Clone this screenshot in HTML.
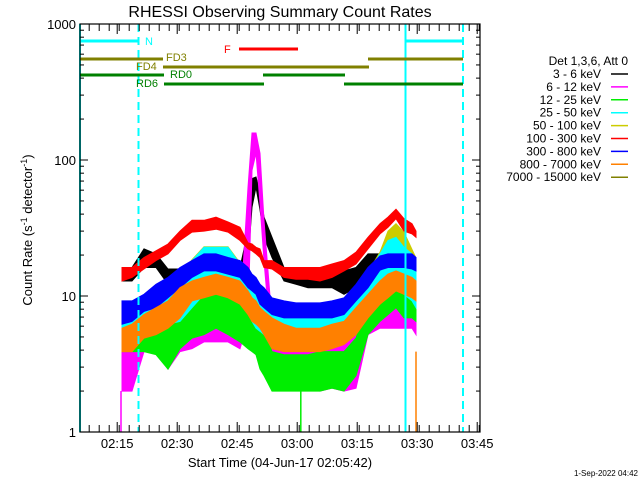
<!DOCTYPE html>
<html><head><meta charset="utf-8"><style>
body{margin:0;background:#fff;}
svg{display:block;font-family:"Liberation Sans",sans-serif;}
</style></head><body>
<svg id="chart" width="640" height="480" viewBox="0 0 640 480">
<text x="280" y="17" font-size="16" text-anchor="middle">RHESSI Observing Summary Count Rates</text>
<text transform="translate(32,230) rotate(-90)" font-size="13" text-anchor="middle">Count Rate (s<tspan dy="-5" font-size="9">-1</tspan><tspan dy="5"> detector</tspan><tspan dy="-5" font-size="9">-1</tspan><tspan dy="5">)</tspan></text>
<text x="280" y="467" font-size="13" text-anchor="middle">Start Time (04-Jun-17 02:05:42)</text>
<text x="638" y="476" font-size="8" text-anchor="end">1-Sep-2022 04:42</text>
<g id="plot"></g>
</svg>
<script>
// minutes after 02:05:42
const times=[10.5,13,16,19,22,25,28,31,34,37,40,42,43,44,45,46,48,51,54,57,60,63,66,69,72,75,77,79,81,83,84];
const names=["3 - 6 keV","6 - 12 keV","12 - 25 keV","25 - 50 keV","50 - 100 keV","100 - 300 keV","300 - 800 keV","800 - 7000 keV","7000 - 15000 keV"];
const colors=["#000000","#ff00ff","#00ee00","#00ffff","#cccc00","#ff0000","#0000ff","#ff8000","#808000"];
const blackHi=[15.8,16.2,22.2,20.4,15.8,15.8,17.2,17.7,17.2,17.2,16.2,30,73,75,58,38,27,16.2,15.8,15.3,15,15.3,15.3,16.2,20.4,20.4,20.4,21,20.4,20.4,18.2];
const blackLo=[12.9,12.9,16.2,16.2,12.2,12.2,12.9,12.9,12.5,12.9,12.2,18.2,45,63,43,27,19.2,12.9,12.2,11.5,11.5,11.5,10.3,11.5,16.2,16.2,17.2,17.2,16.7,16.2,15.3];
const magHi=[3.9,3.9,7,6.9,5.8,6.9,6.9,6.9,6.9,6.9,6.9,63,158,158,112,36,6.5,5.2,5.2,5.2,5.2,5.2,5.8,5.8,8.2,8.7,8.7,8.9,8.7,8.9,8.7];
const magLo=[2.0,2.0,3.9,3.9,2.9,3.9,4.1,4.6,4.6,4.6,4.1,6.5,84,112,48,18,3.8,2.6,2.1,2.1,2.0,2.1,2.0,2.1,5.2,5.8,5.8,5.8,5.8,5.8,5.2];
const greenHi=[5.8,5.8,6.5,6.9,6.5,8.2,9.7,11.5,12.2,11.5,10.3,9.2,9.2,8.2,7.3,5.8,3.9,3.7,3.7,3.7,3.9,3.9,3.9,4.9,9.2,12.9,14.5,15.3,14.5,13.7,12.9];
const greenLo=[3.9,3.9,3.9,3.7,2.9,4.1,4.9,5.2,5.8,5.2,4.6,4.1,3.9,3.7,2.9,2.6,2.0,2.0,2.0,2.0,2.0,2.1,2.0,2.6,5.2,6.5,7.3,8.2,6.9,6.9,6.5];
const cyanHi=[7.3,7.7,8.2,9.2,12.2,13.7,18.2,22.8,22.8,22.8,17.2,13.7,11.5,10.3,9.2,8.2,8.2,7.7,7.7,7.7,7.3,7.7,9.2,10.9,14.5,20.4,25.6,27,22.8,20.4,18.2];
const cyanLo=[4.6,5.0,5.5,5.8,6.2,6.5,8.2,10.3,11.5,10.3,9.2,7.7,6.5,5.8,5.5,5.2,4.6,4.6,4.4,4.4,4.6,4.6,5.2,5.8,8.2,10.3,12.9,12.9,10.3,9.2,8.2];
const yelHi=[7.5,7.9,8.4,9.4,12.4,14,18.5,23,23,23,17.5,14,11.7,10.5,9.4,8.4,8.4,7.9,7.9,7.9,7.5,7.9,9.4,11.2,15,21,30,34,29.5,22,19];
const yelLo=[5.5,5.8,6.2,6.5,7.3,7.7,9.7,12.2,12.9,12.2,10.3,8.7,7.3,6.5,6.2,5.8,5.2,5.2,4.9,4.9,5.2,5.2,5.8,6.5,9.2,12.2,17.2,18.2,15.3,11,9.7];
const redHi=[16.2,16.2,19.2,21.5,24.1,30,36,36,38,35,32,24.6,24.1,22.8,22.2,18.2,18.2,16.2,16.2,16.2,16.2,17.2,18.2,21,27,34,38,43.5,37,34,30];
const redLo=[12.9,13.7,15.8,18.2,20.4,25.6,29.5,30,31,29.5,25.6,22.2,21.5,20.4,19.2,16.2,15.8,13.7,13.3,13.3,12.9,13.7,15.3,17.2,22.2,28.6,32,37,30,28.6,27];
const blueHi=[9.2,9.2,10.3,12.2,13.7,16.2,18.2,20.4,20.4,19.2,18.2,16.2,14.5,13.7,12.2,11.5,9.7,9.2,8.9,8.9,8.9,9.2,9.7,12.2,16.2,19.7,20.4,20.4,20.4,20.4,19.2];
const blueLo=[6.2,6.5,7.7,8.2,9.7,11.5,13.7,15.3,15.3,14.5,13.7,11.5,10.9,10.3,8.7,8.2,7.3,6.9,6.9,6.9,6.9,6.9,7.3,9.2,11.5,15.5,16.2,16.2,16.2,15.8,15.3];
const orHi=[5.8,6.2,7.3,8.2,9.2,11.5,12.9,13.7,14.5,13.7,12.9,10.9,9.7,9.2,8.2,7.7,6.9,6.2,5.8,5.8,5.8,6.2,6.5,8.2,10.3,12.9,14.5,15.3,14.5,13.7,12.9];
const orLo=[3.9,3.9,4.9,5.2,5.8,6.9,9.2,9.7,10.3,9.7,8.7,7.3,6.5,6.2,5.8,5.2,4.1,3.9,3.9,3.9,3.9,4.1,4.4,5.2,6.9,8.7,9.7,10.9,10.3,9.7,9.2];
const bandsHi=[blackHi,magHi,greenHi,cyanHi,yelHi,redHi,blueHi,orHi];
const bandsLo=[blackLo,magLo,greenLo,cyanLo,yelLo,redLo,blueLo,orLo];
const drawOrder=[0,1,2,4,3,5,6,7];
const yTicks=[1,10,100,1000];
const xTickLabels=["02:15","02:30","02:45","03:00","03:15","03:30","03:45"];
const xTickMinutes=[9.3,24.3,39.3,54.3,69.3,84.3,99.3];

const L=80,R=480,T=24,B=432;
const xs=t=>L+t*4;
const ys=v=>B-(Math.log10(v))*(B-T)/3;
const NS="http://www.w3.org/2000/svg";
const g=document.getElementById('plot');
function mk(tag,at,parent){const e=document.createElementNS(NS,tag);for(const k in at)e.setAttribute(k,at[k]);(parent||g).appendChild(e);return e;}

// series bands
drawOrder.forEach(s=>{
  const hi=bandsHi[s],lo=bandsLo[s];
  let pts=[];
  for(let i=0;i<times.length;i++)pts.push(xs(times[i]).toFixed(1)+","+ys(hi[i]).toFixed(1));
  for(let i=times.length-1;i>=0;i--)pts.push(xs(times[i]).toFixed(1)+","+ys(lo[i]).toFixed(1));
  const p=mk('polygon',{points:pts.join(' '),fill:colors[s],stroke:colors[s],'stroke-width':1});
  
  
});
// drop lines
[[1,10.25,2.0],[2,55.2,2.0],[7,84,3.9]].forEach(d=>{
  const l=mk('line',{x1:xs(d[1]),x2:xs(d[1]),y1:ys(d[2]),y2:B,stroke:colors[d[0]],'stroke-width':1.5});
  
  
});

// vertical markers
[[80,false],[138.5,true],[405.5,false],[463,true]].forEach(v=>{
  const l=mk('line',{x1:v[0],x2:v[0],y1:T,y2:B,stroke:'#00ffff','stroke-width':2});
  if(v[1])l.setAttribute('stroke-dasharray','8,5');
  
  
});

// status bars
const bars=[["#00ffff",41,80,138],["#00ffff",41,405,463],["#ff0000",49,239,298],["#808000",59,80,163],["#808000",59,368,463],["#808000",67,163,369],["#008000",75,80,164],["#008000",75,263,345],["#008000",84,164,264],["#008000",84,344,463]];
bars.forEach(b=>{
  const l=mk('line',{x1:b[2],x2:b[3],y1:b[1],y2:b[1],stroke:b[0],'stroke-width':3});
  
  
});
[["N",145,45,"#00ffff"],["F",224,53,"#ff0000"],["FD3",166,61,"#808000"],["FD4",136,70,"#808000"],["RD0",170,78,"#008000"],["RD6",136,87,"#008000"]].forEach(t=>{
  const e=mk('text',{x:t[1],y:t[2],fill:t[3],'font-size':11});
  e.textContent=t[0];
  
  
});

// axes box
const box=mk('rect',{x:L,y:T,width:R-L,height:B-T,fill:'none',stroke:'#000','stroke-width':1.2});


// y ticks
for(let d=0;d<3;d++){for(let m=1;m<10;m++){const v=Math.pow(10,d)*m;const y=ys(v);const len=m==1?8:4;
  mk('line',{x1:L,x2:L+len,y1:y,y2:y,stroke:'#000'});mk('line',{x1:R,x2:R-len,y1:y,y2:y,stroke:'#000'});}}
yTicks.forEach(v=>{const e=mk('text',{x:76,y:ys(v)+5,'font-size':13,'text-anchor':'end'});e.textContent=String(v);
  
  });
// x ticks
for(let t=-0.2;t<=100;t+=2.5){const x=xs(t);
  if(x<L||x>R)continue;const len=7;
  mk('line',{x1:x,x2:x,y1:B,y2:B-len,stroke:'#000'});mk('line',{x1:x,x2:x,y1:T,y2:T+len,stroke:'#000'});}
xTickLabels.forEach((s,i)=>{const x=xs(xTickMinutes[i]);
  mk('line',{x1:x,x2:x,y1:B,y2:B-10,stroke:'#000'});mk('line',{x1:x,x2:x,y1:T,y2:T+10,stroke:'#000'});
  const e=mk('text',{x:x,y:448,'font-size':13,'text-anchor':'middle'});e.textContent=s;
  
  });

// legend
const lh=mk('text',{x:628,y:65,'font-size':12,'text-anchor':'end'});lh.textContent="Det 1,3,6, Att 0";


names.forEach((n,i)=>{const y=78+i*12.9;
  const e=mk('text',{x:601,y:y,'font-size':12,'text-anchor':'end'});e.textContent=n;
  
  
  const l=mk('line',{x1:611,x2:628,y1:y-4,y2:y-4,stroke:colors[i],'stroke-width':1.5});
  
  
});
</script>
</body></html>
